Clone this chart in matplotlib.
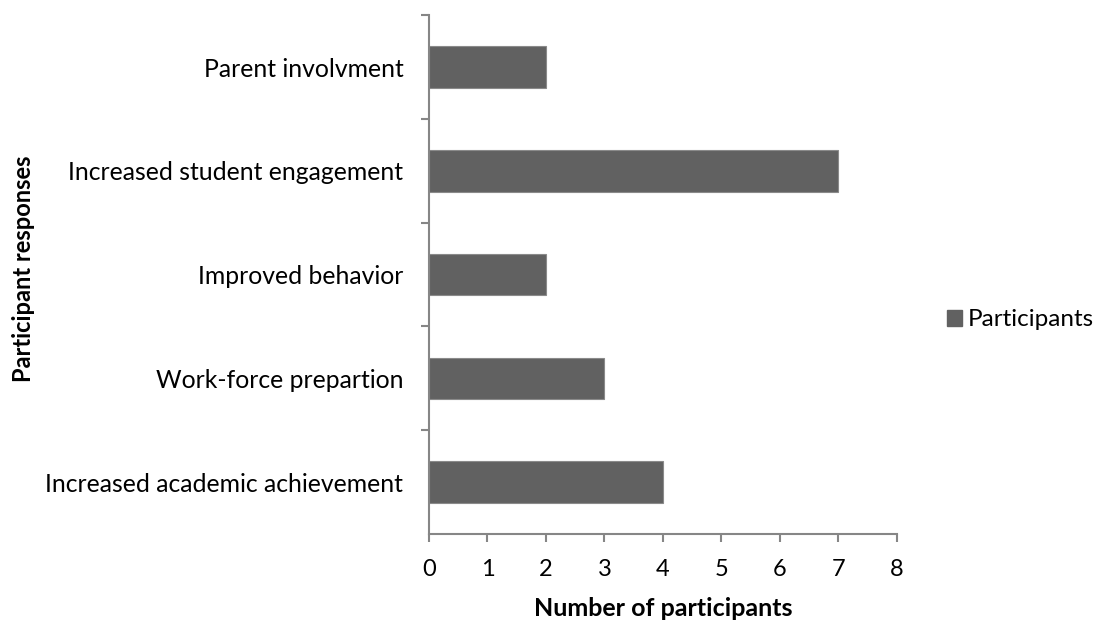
import matplotlib.pyplot as plt
from matplotlib.patches import Patch

categories = ['Increased academic achievement', 'Work-force prepartion', 'Improved behavior',
              'Increased student engagement', 'Parent involvment']
participants = [4, 3, 2, 7, 2]
xticks = [0, 1, 2, 3, 4, 5, 6, 7, 8]

plt.rcParams['font.family'] = ['Lato', 'DejaVu Sans']

fig = plt.figure(figsize=(10.98, 6.22), dpi=100)
ax = fig.add_axes([0.3907, 0.1415, 0.4262, 0.834])

pos = list(range(len(categories)))
ax.barh(pos, participants, height=0.4, color='#616161', edgecolor='#8a8a8a', linewidth=0.8,
        label='Participants')

ax.set_xlim(0, 8)
ax.set_ylim(-0.5, len(categories) - 0.5)
ax.set_xticks(xticks)
ax.set_xticklabels([str(t) for t in xticks], fontsize=17)
ax.set_yticks(pos)
ax.set_yticklabels(categories, fontsize=17.8)
ax.set_yticks([p + 0.5 for p in pos], minor=True)
ax.tick_params(axis='y', which='major', length=0, pad=18.5)
ax.tick_params(axis='y', which='minor', length=6, color='#868686', width=1.5)
ax.tick_params(axis='x', length=6, color='#868686', width=1.5, pad=12)

for s in ['top', 'right']:
    ax.spines[s].set_visible(False)
for s in ['left', 'bottom']:
    ax.spines[s].set_color('#868686')
    ax.spines[s].set_linewidth(1.5)

ax.set_xlabel('Number of participants', fontsize=18, fontweight='bold', labelpad=12)
fig.text(0.021, 0.568, 'Participant responses', rotation=90, fontsize=17, fontweight='bold',
         ha='center', va='center')

fig.legend(handles=[Patch(color='#616161', label='Participants')], loc='center left',
           bbox_to_anchor=(0.8625, 0.486), frameon=False, fontsize=17.5,
           borderpad=0, borderaxespad=0,
           handlelength=0.62, handleheight=0.62, handletextpad=0.25)

plt.savefig('out.png', dpi=100)
